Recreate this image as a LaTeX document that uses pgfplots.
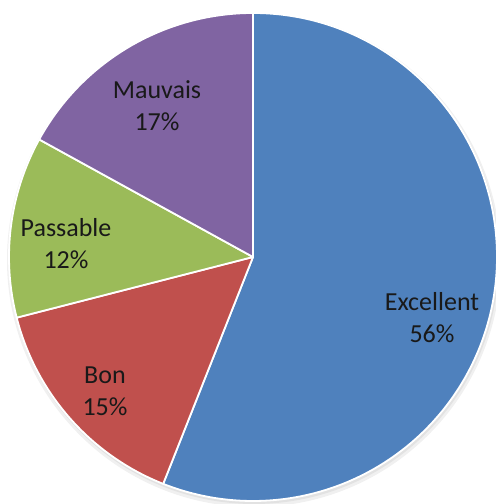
\documentclass[border=0pt]{standalone}
\usepackage{pgfplots}
\pgfplotsset{compat=1.18}
\usepackage{pgfplotstable}
\usepackage{fontspec}
\setmainfont{Carlito}
\definecolor{cExc}{HTML}{4F81BD}
\definecolor{cBon}{HTML}{C0504D}
\definecolor{cPas}{HTML}{9BBB59}
\definecolor{cMau}{HTML}{8064A2}
\pgfplotstableread{
label      value
Excellent  56
Bon        15
Passable   12
Mauvais    17
}\piedata
\begin{document}
\begin{tikzpicture}
\pgfplotstablegetelem{0}{value}\of\piedata \let\vA\pgfplotsretval
\pgfplotstablegetelem{1}{value}\of\piedata \let\vB\pgfplotsretval
\pgfplotstablegetelem{2}{value}\of\piedata \let\vC\pgfplotsretval
\pgfplotstablegetelem{3}{value}\of\piedata \let\vD\pgfplotsretval
\pgfmathsetmacro\aA{90}
\pgfmathsetmacro\aB{\aA-3.6*\vA}
\pgfmathsetmacro\aC{\aB-3.6*\vB}
\pgfmathsetmacro\aD{\aC-3.6*\vC}
\pgfmathsetmacro\aE{\aD-3.6*\vD}
\def\R{122pt}
\begin{axis}[
  x=0.5pt, y=0.5pt,
  xmin=0, xmax=495, ymin=0, ymax=504,
  hide axis, clip=false,
]
\coordinate (ll) at (axis cs:0,0);
\coordinate (ur) at (axis cs:495,504);
% soft shadow
\fill[black, opacity=0.06] (axis cs:254,244) circle[radius=123.5pt];
\fill[black, opacity=0.06] (axis cs:254,245) circle[radius=122.5pt];
% slices
\fill[cExc, draw=white, line width=0.9pt, line join=round] (axis cs:253,247) -- ++(\aA:\R) arc[start angle=\aA, end angle=\aB, radius=\R] -- cycle;
\fill[cBon, draw=white, line width=0.9pt, line join=round] (axis cs:253,247) -- ++(\aB:\R) arc[start angle=\aB, end angle=\aC, radius=\R] -- cycle;
\fill[cPas, draw=white, line width=0.9pt, line join=round] (axis cs:253,247) -- ++(\aC:\R) arc[start angle=\aC, end angle=\aD, radius=\R] -- cycle;
\fill[cMau, draw=white, line width=0.9pt, line join=round] (axis cs:253,247) -- ++(\aD:\R) arc[start angle=\aD, end angle=\aE, radius=\R] -- cycle;
% labels
\tikzset{pl/.style={align=center, text=black!90, font=\fontsize{13}{16}\selectfont, inner sep=0pt}}
\node[pl] at (axis cs:432,186) {Excellent\\56\%};
\node[pl] at (axis cs:105,113) {Bon\\15\%};
\node[pl] at (axis cs:66,260) {Passable\\12\%};
\node[pl] at (axis cs:157,398) {Mauvais\\17\%};
\end{axis}
\pgfresetboundingbox
\path[use as bounding box] (ll) rectangle (ur);
\end{tikzpicture}
\end{document}
